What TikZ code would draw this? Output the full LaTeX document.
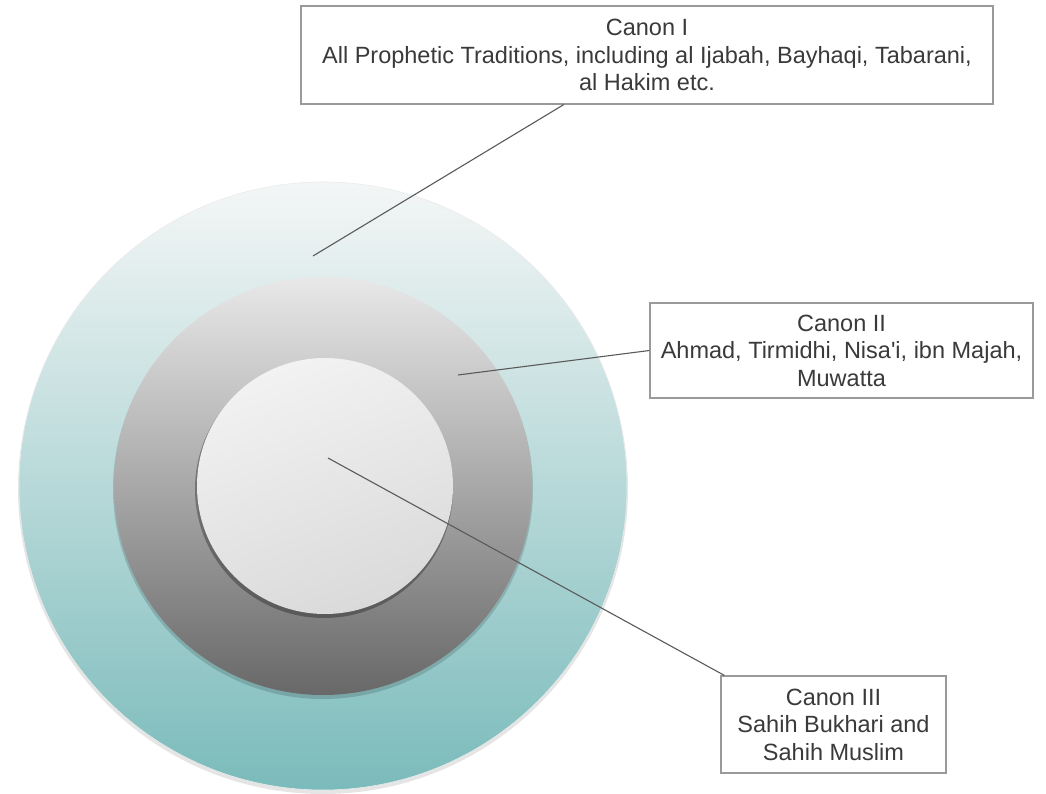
\documentclass[tikz,border=0pt]{standalone}
\usepackage{fontspec}
\setmainfont{Liberation Sans}
\usetikzlibrary{calc}
\definecolor{outerTop}{HTML}{F4F6F6}
\definecolor{outerMid}{HTML}{C8E2E2}
\definecolor{outerBot}{HTML}{7BBBBB}
\definecolor{midTop}{HTML}{E8E8E8}
\definecolor{midMid}{HTML}{B0B0B0}
\definecolor{midBot}{HTML}{686868}
\definecolor{innTop}{HTML}{F2F2F2}
\definecolor{innBot}{HTML}{DADADA}
\definecolor{txt}{HTML}{3A3A3A}
\definecolor{boxline}{HTML}{9A9A9A}
\definecolor{leadc}{HTML}{5A5A5A}
\tikzset{
  labelbox/.style={draw=boxline, line width=1.1pt, fill=white, align=center,
    text=txt, font=\fontsize{23.5}{27.5}\selectfont, inner sep=0pt},
  leader/.style={draw=leadc, line width=1.1pt},
  softshadow/.style={fill=black, opacity=0.10}
}
\begin{document}
\begin{tikzpicture}[x=1pt,y=-1pt]
\useasboundingbox (0,0) rectangle (1046,794);
\fill[white] (0,0) rectangle (1046,794);
% circles
\coordinate (c) at (323,486);
\fill[softshadow] ($(c)+(0,3)$) circle[radius=305pt];
\shade[top color=outerTop, middle color=outerMid, bottom color=outerBot] (c) circle[radius=304pt];
\draw[black!8, line width=0.6pt] (c) circle[radius=304pt];
\fill[softshadow, opacity=0.15] ($(c)+(0,3)$) circle[radius=210pt];
\shade[top color=midTop, middle color=midMid, bottom color=midBot] (c) circle[radius=209pt];
\fill[softshadow, opacity=0.3] ($(c)+(1,3)$) circle[radius=129pt];
\shade[top color=innTop, bottom color=innBot, shading angle=20] ($(c)+(2,0)$) circle[radius=128pt];
% anchor points
\coordinate (p1) at (313,256);
\coordinate (p2) at (458,375);
\coordinate (p3) at (328,458);
% boxes
\node[labelbox, minimum width=692pt, minimum height=98pt] (b1) at (647,55)
  {Canon I\\All Prophetic Traditions, including al Ijabah, Bayhaqi, Tabarani,\\al Hakim etc.};
\node[labelbox, minimum width=383pt, minimum height=95pt] (b2) at (841.5,350.5)
  {Canon II\\Ahmad, Tirmidhi, Nisa\textquotesingle i, ibn Majah,\\Muwatta};
\node[labelbox, minimum width=225pt, minimum height=97pt] (b3) at (833.5,724.5)
  {Canon III\\Sahih Bukhari and\\Sahih Muslim};
% leaders
\draw[leader] (p1) -- ($(b1.south west)!0.38!(b1.south east)$);
\draw[leader] (p2) -- (b2.west);
\draw[leader] (p3) -- ($(b3.north west)+(4,0)$);
\end{tikzpicture}
\end{document}
